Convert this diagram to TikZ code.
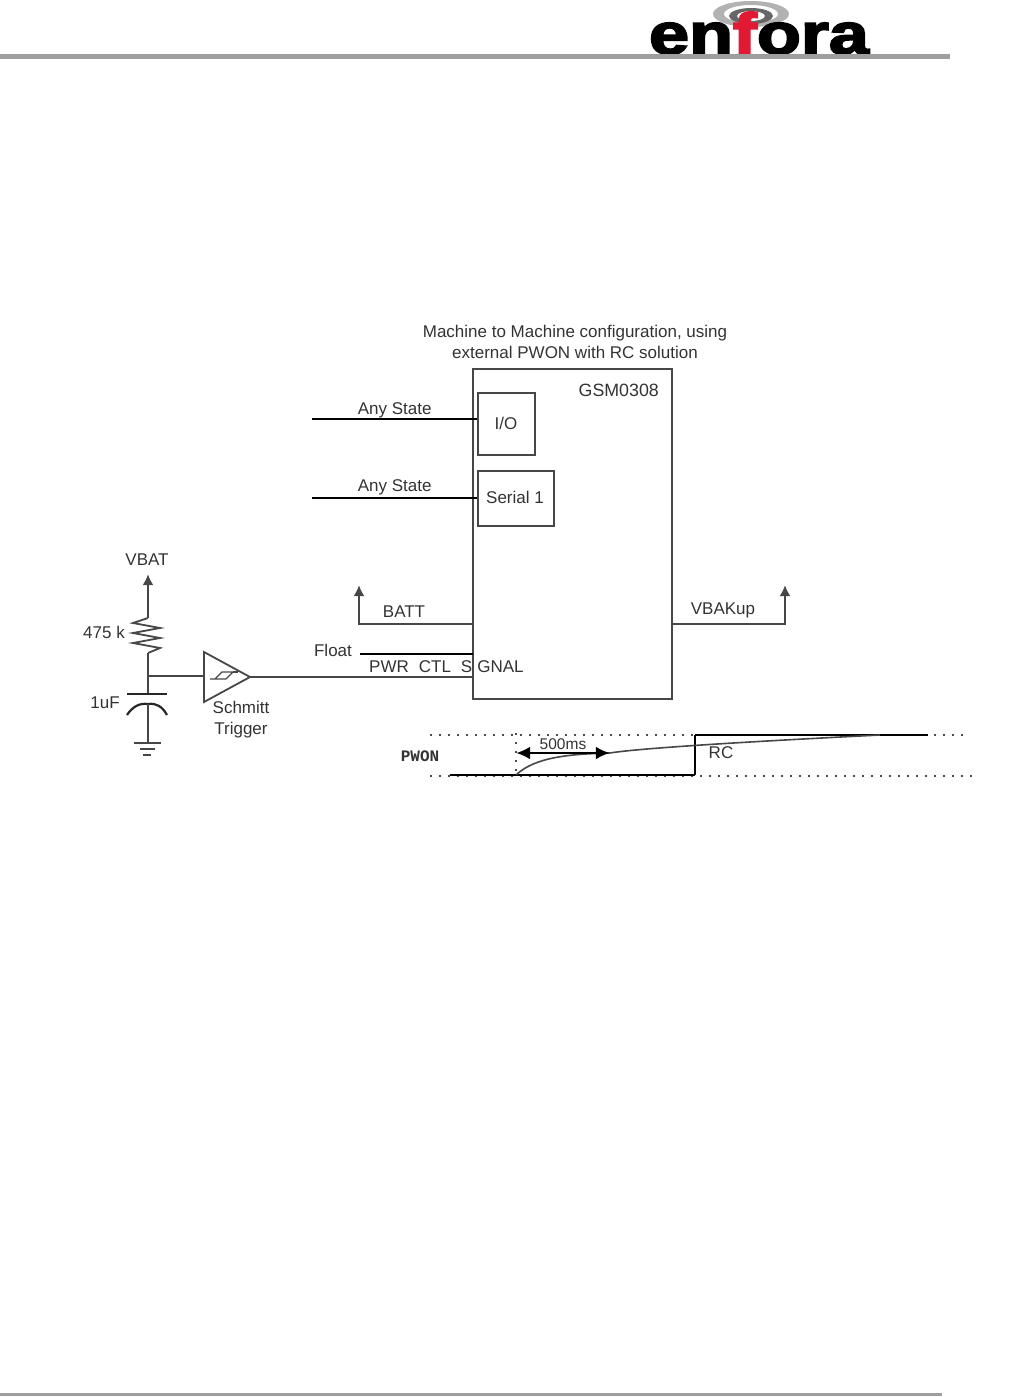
\documentclass[tikz,border=0pt]{standalone}
\usepackage{fontspec}
\setmainfont{Liberation Sans}
\newfontfamily\pwonfont{Liberation Mono}
\newfontfamily\logofont[FakeBold=3]{Liberation Sans Bold}
\usetikzlibrary{arrows.meta}
\definecolor{wire}{gray}{0.28}
\definecolor{rulegray}{gray}{0.62}
\definecolor{logored}{RGB}{225,25,50}
\tikzstyle{lbl}=[inner sep=0pt, text=black!80, font=\fontsize{17}{21}\selectfont, align=center]
\tikzstyle{box}=[draw=wire, line width=1.8pt, inner sep=0pt]
\tikzstyle{w}=[draw=wire, line width=1.8pt]
\tikzstyle{hot}=[draw=black, line width=2.4pt]
\tikzstyle{tip}=[-{Latex[length=11pt,width=11pt]}]
\tikzstyle{pt}=[inner sep=0pt, minimum size=0pt]
\tikzstyle{dots}=[draw=black!70, line width=1.2pt, dash pattern=on 2pt off 7pt]

\begin{document}
\begin{tikzpicture}[x=1pt,y=-1pt]
  \useasboundingbox (0,0) rectangle (1010,1397);
  % header
  \fill[black!30,even odd rule] (751,14) ellipse (38 and 13) (751,14) ellipse (27 and 9);
  \fill[black!60,even odd rule] (751,16) ellipse (22 and 8) (751,16) ellipse (14 and 5);
  \node[pt,anchor=base,xscale=1.24,font=\fontsize{58}{58}\selectfont\logofont] at (759,54) (logo) {en{\color{logored}f}ora};
  \node[pt] at (0,56.5) (ruleA) {};
  \node[pt] at (950,56.5) (ruleB) {};
  \draw[rulegray,line width=5pt] (ruleA) -- (ruleB);
  \node[pt] at (0,1394) (ruleC) {};
  \node[pt] at (942,1394) (ruleD) {};
  \draw[rulegray,line width=3pt] (ruleC) -- (ruleD);

  % module
  \node[lbl] at (575,342) (title) {Machine to Machine configuration, using\\external PWON with RC solution};
  \node[box,minimum width=199pt,minimum height=330pt] at (572.5,534) (gsm) {};
  \node[lbl,anchor=east,font=\fontsize{17.8}{21}\selectfont] at (659,390) (gsmlbl) {GSM0308};
  \node[box,minimum width=57pt,minimum height=62pt] at (506.5,424) (io) {};
  \node[lbl] at (506,423) (iolbl) {I/O};
  \node[box,minimum width=76pt,minimum height=55pt] at (516,498.5) (serial) {};
  \node[lbl] at (515,497) (seriallbl) {Serial 1};

  \node[pt] at (312,419) (anyA) {};
  \node[pt] at (312,498) (anyB) {};
  \draw[hot] (anyA) -- (anyA -| io.west) node[lbl,pos=0.5,above=0pt] (anyAlbl) {Any State};
  \draw[hot] (anyB) -- (anyB -| serial.west) node[lbl,pos=0.5,above=2pt] (anyBlbl) {Any State};

  % supplies
  \node[pt] at (359,585) (battup) {};
  \node[pt] at (473,624) (battin) {};
  \draw[w,tip] (battin) -| (battup);
  \node[lbl] at (404,612) (battlbl) {BATT};
  \node[pt] at (785,585) (bakup) {};
  \node[pt] at (672,624) (bakout) {};
  \draw[w,tip] (bakout) -| (bakup);
  \node[lbl] at (723,610) (baklbl) {VBAKup};

  % control lines
  \node[lbl] at (333,650) (floatlbl) {Float};
  \node[pt] at (360,654) (floatl) {};
  \node[pt] at (473,654) (floatr) {};
  \draw[draw=black,line width=1.6pt] (floatl) -- (floatr);
  \node[lbl,anchor=west] at (369,667) (pwrlbl) {PWR\hspace{10pt}CTL\hspace{10pt}S\hspace{5pt}GNAL};

  % rc network
  \node[lbl] at (147,560) (vbat) {VBAT};
  \node[pt] at (148,574) (vbattop) {};
  \node[pt] at (148,618) (rtop) {};
  \node[pt] at (148,653) (rbot) {};
  \node[pt] at (148,676) (junc) {};
  \node[pt] at (148,694) (capa) {};
  \node[pt] at (148,704) (capb) {};
  \node[pt] at (148,743) (gnd) {};
  \draw[w,tip] (rtop) -- (vbattop);
  \draw[w] (rtop) -- (133,623) -- (160,628) -- (133,633) -- (160,638) -- (133,643) -- (160,648) -- (rbot);
  \draw[w] (rbot) -- (junc) -- (capa);
  \draw[draw=black!85,line width=2.6pt] (127,694) -- (167,694);
  \draw[draw=black!85,line width=2.2pt] (127,715) .. controls (133,706) and (140,703) .. (capb) .. controls (156,703) and (162,706) .. (167,715);
  \draw[w] (capb) -- (gnd);
  \draw[w] (134,743) -- (161,743);
  \draw[w] (140,749) -- (155,749);
  \draw[w] (143,755) -- (151,755);
  \node[lbl] at (104,632) (rlbl) {475 k};
  \node[lbl] at (105,703) (clbl) {1uF};

  % schmitt trigger
  \node[pt] at (204,652) (stA) {};
  \node[pt] at (204,702) (stB) {};
  \node[pt] at (250,677) (stC) {};
  \node[pt] at (204,676) (stin) {};
  \draw[w,line join=miter] (stA.center) -- (stC.center) -- (stB.center) -- cycle;
  \draw[w] (junc) -- (stin);
  \draw[draw=wire,line width=1.3pt] (210,679) -- (226,679) -- (233,672) -- (222,672) -- (215,679);
  \draw[draw=wire,line width=1.3pt] (233,672) -- (238,672);
  \draw[w] (stC) -- (stC -| gsm.west);
  \node[lbl] at (241,720) (stlbl) {Schmitt\\Trigger};

  % pwon timing
  \node[pt] at (430,735) (upA) {};
  \node[pt] at (965,735) (upB) {};
  \node[pt] at (430,776) (loA) {};
  \node[pt] at (975,776) (loB) {};
  \node[pt] at (450,775) (pwonA) {};
  \node[pt] at (695,775) (pwonB) {};
  \node[pt] at (695,735) (pwonC) {};
  \node[pt] at (928,735) (pwonD) {};
  \node[pt] at (516,733) (markA) {};
  \node[pt] at (516,775) (markB) {};
  \node[pt] at (516,753) (spanA) {};
  \node[pt] at (610,753) (spanB) {};
  \draw[dots] (upA) -- (upB);
  \draw[dots] (loA) -- (loB);
  \draw[dots] (markA) -- (markB);
  \draw[hot] (pwonA) -- (pwonB) -- (pwonC) -- (pwonD);
  \draw[w,line width=1.6pt] (markB) .. controls (535,757) and (570,754) .. (spanB) .. controls (640,748) and (760,741) .. (880,735);
  \draw[black,line width=2.4pt,{Latex[length=14pt,width=13pt]}-{Latex[length=14pt,width=13pt]}] (spanA) -- (spanB);
  \node[lbl,font=\fontsize{15.5}{18}\selectfont] at (563,744) (spanlbl) {500ms};
  \node[lbl] at (721,753) (rclbl) {RC};
  \node[lbl,font=\fontsize{16}{18}\selectfont\pwonfont\bfseries] at (420,756) (pwonlbl) {PWON};
\end{tikzpicture}
\end{document}
